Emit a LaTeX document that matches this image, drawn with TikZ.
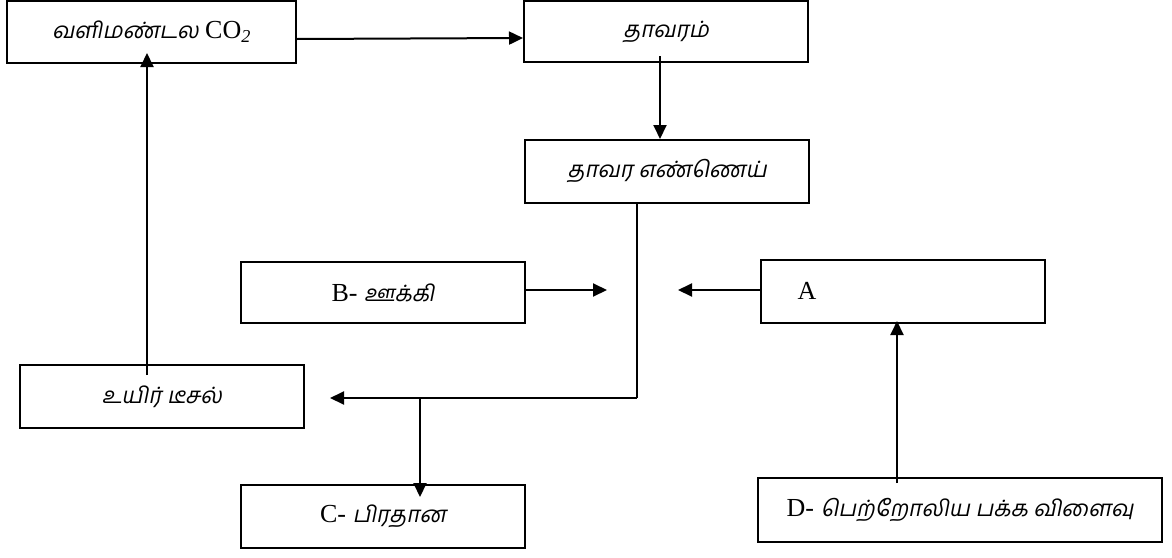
\documentclass[tikz,border=0pt]{standalone}
\usepackage{fontspec}
\setmainfont{Liberation Serif}
\newfontfamily\ta[Script=Tamil,FakeSlant=0.2]{Hind Madurai}
\newcommand{\tm}{\ta\fontsize{22.5}{26}\selectfont}
\usetikzlibrary{arrows.meta}
\begin{document}
\begin{tikzpicture}[x=1pt,y=-1pt,
  box/.style={draw,line width=2pt,inner sep=0pt,font=\fontsize{26}{30}\selectfont},
  txt/.style={inner sep=0pt,font=\fontsize{26}{30}\selectfont},
  arr/.style={line width=2pt,-{Triangle[length=14pt,width=13pt]}},
  ln/.style={line width=1.5pt}]
\useasboundingbox (0,0) rectangle (1172,557);
\node[box,minimum width=289pt,minimum height=62pt] (co2) at (151.5,32) {{\tm வளிமண்டல} CO\textsubscript{\textit{2}}};
\node[box,minimum width=284pt,minimum height=61pt] (plant) at (666,31.5) {\tm தாவரம்};
\node[box,minimum width=284pt,minimum height=63pt] (oil) at (667,171.5) {\tm தாவர எண்ணெய்};
\node[box,minimum width=284pt,minimum height=61pt] (B) at (383,292.5) {B- {\tm ஊக்கி}};
\node[box,minimum width=284pt,minimum height=63pt] (A) at (903,291.5) {};
\node[txt] (atext) at (807,291) {A};
\node[box,minimum width=284pt,minimum height=63pt] (bio) at (162,396.5) {\tm உயிர் டீசல்};
\node[box,minimum width=284pt,minimum height=63pt] (C) at (383,516.5) {C- {\tm பிரதான}};
\node[box,minimum width=404pt,minimum height=64pt] (D) at (960,510) {D- {\tm பெற்றோலிய பக்க விளைவு}};
\coordinate (j1) at (637,398);
\coordinate (br) at (420,398);
\coordinate (bmid) at (607,290);
\coordinate (amid) at (678,290);
\draw[arr] ([yshift=-7pt]co2.east) -- ([yshift=-6.5pt]plant.west);
\draw[arr] ([xshift=-6pt,yshift=7pt]plant.south) -- ([xshift=-7pt]oil.north);
\draw[ln] (oil.south -| j1) -- (j1);
\draw[arr] (j1) -- ([xshift=25pt]bio.east |- j1);
\draw[arr] (br) -- ([yshift=-13pt]C.north -| br);
\draw[arr] (B.east |- bmid) -- (bmid);
\draw[arr] (A.west |- amid) -- (amid);
\draw[arr] ([xshift=-63pt,yshift=-6pt]D.north) -- ([xshift=-6pt,yshift=3pt]A.south);
\draw[arr] ([xshift=-15pt,yshift=-11pt]bio.north) -- ([xshift=-4.5pt,yshift=11pt]co2.south);
\end{tikzpicture}
\end{document}
